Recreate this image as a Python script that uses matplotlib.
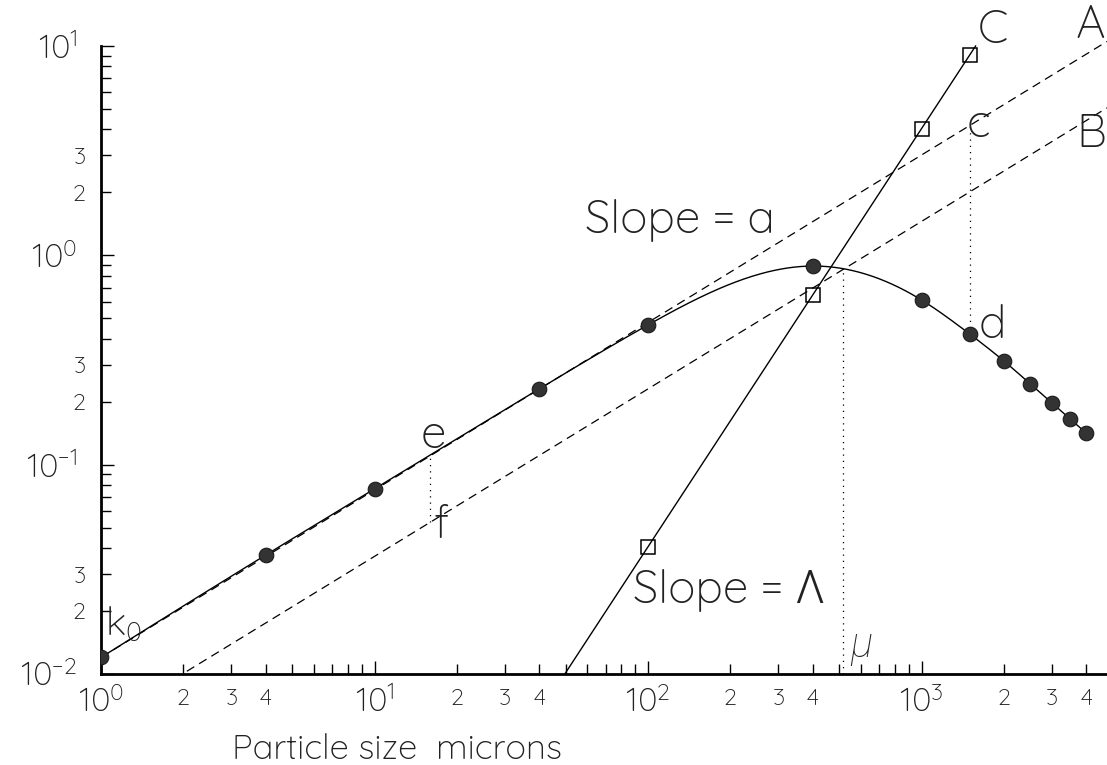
import numpy as np
import matplotlib
matplotlib.use("Agg")
import matplotlib.pyplot as plt
from matplotlib import ticker

# ---------------- data ----------------
circle_x = [1, 4, 10, 40, 100, 400, 1000, 1500, 2000, 2500, 3000, 3500, 4000]
circle_y = [0.012, 0.037, 0.0766, 0.230, 0.465, 0.889, 0.612, 0.421, 0.313, 0.243, 0.197, 0.165, 0.1416]
square_x = [100, 400, 1000, 1500]
square_y = [0.0405, 0.647, 4.02, 9.06]
slope_a = 0.8
line_a_k = 0.012      # line A: y = k * x^a
line_b_k = 0.00578    # line B: parallel to A
mu_x = 516
cd_x = 1500
ef_x = 16
x_major_labeled = [1, 10, 100, 1000]
x_minor_labeled = [2, 3, 4]
y_minor_labeled = [2, 3]

W, H = 1107, 765
plt.rcParams['font.family'] = ['Quicksand', 'Roboto', 'DejaVu Sans']
plt.rcParams['font.weight'] = 300
plt.rcParams['mathtext.default'] = 'regular'
TXT = '#222222'

fig = plt.figure(figsize=(W / 100, H / 100), dpi=100)
ax = fig.add_axes([101 / W, (H - 674) / H, (W - 101) / W, 674 / H])
ax.set_xscale('log')
ax.set_yscale('log')
ax.set_xlim(1, 10 ** (1006 / 273.5))
ax.set_ylim(0.01, 10 ** (1 + 46 / 209.3))

for s in ['top', 'right']:
    ax.spines[s].set_visible(False)
ax.spines['left'].set_bounds(0.01, 10)
ax.spines['left'].set_linewidth(2.0)
ax.spines['bottom'].set_linewidth(2.0)


def natural_spline(xs, ys, xq):
    xs = np.asarray(xs, float); ys = np.asarray(ys, float)
    n = len(xs)
    h = np.diff(xs)
    A = np.zeros((n, n)); r = np.zeros(n)
    A[0, 0] = 1; A[-1, -1] = 1
    for i in range(1, n - 1):
        A[i, i - 1] = h[i - 1]; A[i, i] = 2 * (h[i - 1] + h[i]); A[i, i + 1] = h[i]
        r[i] = 3 * ((ys[i + 1] - ys[i]) / h[i] - (ys[i] - ys[i - 1]) / h[i - 1])
    c = np.linalg.solve(A, r)
    b = (ys[1:] - ys[:-1]) / h - h * (2 * c[:-1] + c[1:]) / 3
    d = (c[1:] - c[:-1]) / (3 * h)
    idx = np.clip(np.searchsorted(xs, xq) - 1, 0, n - 2)
    dx = xq - xs[idx]
    return ys[idx] + b[idx] * dx + c[idx] * dx ** 2 + d[idx] * dx ** 3


lx = np.log10(circle_x); ly = np.log10(circle_y)


def curve(x):
    return 10 ** natural_spline(lx, ly, np.log10(x))


xx = np.logspace(lx[0], lx[-1], 600)
ax.plot(xx, curve(xx), color='black', lw=1.0, zorder=3)

# Lines A, B (dashed)
xr = np.logspace(0, np.log10(ax.get_xlim()[1]), 200)
dash = (0, (7, 4.5))
ax.plot(xr, line_a_k * xr ** slope_a, color='black', lw=0.9, ls=dash, zorder=2)
ax.plot(xr, line_b_k * xr ** slope_a, color='black', lw=0.9, ls=dash, zorder=2)

# Line C fitted through squares
p = np.polyfit(np.log10(square_x), np.log10(square_y), 1)
x_lo = 10 ** ((-2 - p[1]) / p[0]); x_hi = 10 ** ((1 - p[1]) / p[0])
xc = np.logspace(np.log10(x_lo), np.log10(x_hi), 50)
ax.plot(xc, 10 ** np.polyval(p, np.log10(xc)), color='black', lw=1.0, zorder=3)

ax.plot(circle_x, circle_y, 'o', ms=10.5, mfc='#333333', mec='#1a1a1a', mew=0.8, zorder=5)
ax.plot(square_x, square_y, 's', ms=10, mfc='none', mec='black', mew=1.1, zorder=5)

dot = (0, (1, 4))
ax.plot([mu_x, mu_x], [0.01, line_b_k * mu_x ** slope_a], color='black', lw=0.9, ls=dot, zorder=2)
ax.plot([cd_x, cd_x], [curve(cd_x), line_a_k * cd_x ** slope_a], color='black', lw=0.9, ls=dot, zorder=2)
ax.plot([ef_x, ef_x], [line_b_k * ef_x ** slope_a, curve(ef_x)], color='black', lw=0.9, ls=dot, zorder=2)

# ticks
ax.xaxis.set_major_locator(ticker.FixedLocator(x_major_labeled))
ax.yaxis.set_major_locator(ticker.FixedLocator([0.01, 0.1, 1, 10]))
ax.xaxis.set_minor_locator(ticker.LogLocator(base=10, subs=np.arange(2, 10), numticks=20))
ax.yaxis.set_minor_locator(ticker.LogLocator(base=10, subs=np.arange(2, 10), numticks=20))


def major_fmt(v, pos):
    e = int(round(np.log10(v)))
    return r'$\mathdefault{10^{%d}}$' % e if e >= 0 else r'$\mathdefault{10^{-%d}}$' % (-e)


def make_minor(labeled):
    def f(v, pos):
        e = np.floor(np.log10(v) + 1e-9)
        m = int(round(v / 10 ** e))
        return str(m) if m in labeled else ''
    return f


ax.xaxis.set_major_formatter(ticker.FuncFormatter(major_fmt))
ax.yaxis.set_major_formatter(ticker.FuncFormatter(major_fmt))
ax.xaxis.set_minor_formatter(ticker.FuncFormatter(make_minor(x_minor_labeled)))
ax.yaxis.set_minor_formatter(ticker.FuncFormatter(make_minor(y_minor_labeled)))

ax.tick_params(which='major', direction='in', length=9.5, width=1.0, labelsize=24,
               labelcolor=TXT, pad=9)
ax.tick_params(which='minor', direction='in', length=7, width=1.0, labelsize=17,
               labelcolor=TXT, pad=10)
ax.tick_params(axis='y', which='major', pad=17)
ax.tick_params(axis='y', which='minor', pad=11)


def ftext(px, py, s, size=33, ha='left', va='baseline', **kw):
    kw.setdefault('color', TXT)
    fig.text(px / W, 1 - py / H, s, fontsize=size, ha=ha, va=va, **kw)


ftext(978, 43, 'C')
ftext(1105, 38, 'A', ha='right')
ftext(1106, 147, 'B', ha='right')
ftext(967, 137, 'c')
ftext(979, 338, 'd')
ftext(421, 448, 'e')
ftext(434, 538, 'f')
ftext(585, 233, 'Slope = a')
ftext(633, 603, 'Slope = \u039b')
ftext(105, 635, r'$\mathdefault{k_0}$', size=28)
ftext(850, 657, '\u03bc', size=30, family=['Roboto', 'DejaVu Sans'], style='italic', weight=100)
ftext(232, 759, 'Particle size  microns', size=25)

fig.savefig('out.png', dpi=100)
